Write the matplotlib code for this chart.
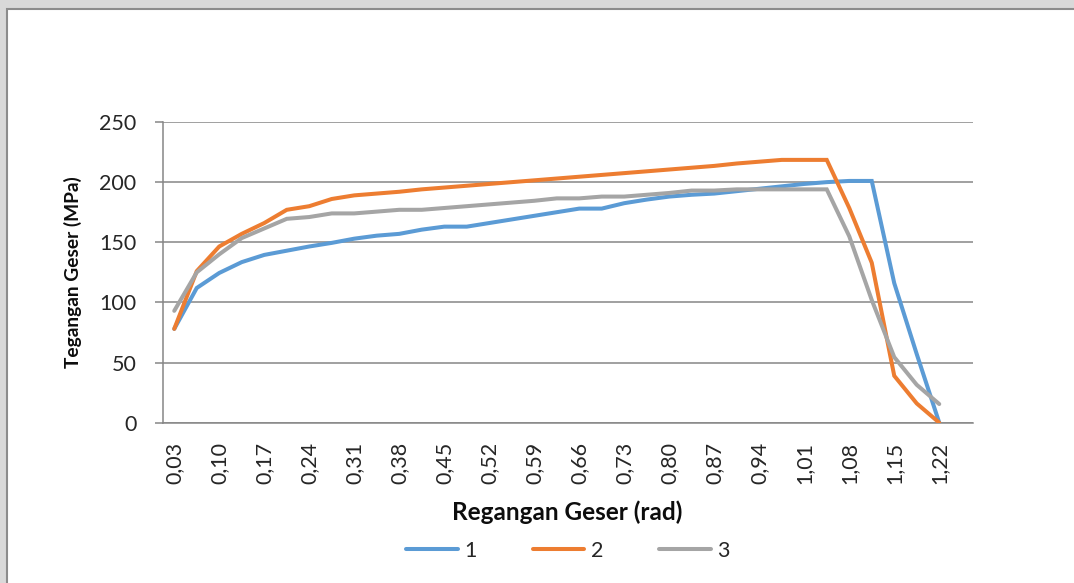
import matplotlib
matplotlib.use("Agg")
import matplotlib.pyplot as plt
from matplotlib.patches import Rectangle
import numpy as np

# ---- data ----
strain = [0.03, 0.065, 0.10, 0.135, 0.17, 0.205, 0.24, 0.275, 0.31, 0.345,
          0.38, 0.415, 0.45, 0.485, 0.52, 0.555, 0.59, 0.625, 0.66, 0.695,
          0.73, 0.765, 0.80, 0.835, 0.87, 0.905, 0.94, 0.975, 1.01, 1.045,
          1.08, 1.115, 1.15, 1.185, 1.22, 1.255]

series_1 = [78, 112, 124.5, 133.5, 139.5, 143, 146.5, 149.5, 153, 155.5,
            157, 160.5, 163, 163, 166, 169, 172, 175, 178, 178,
            182.5, 185.5, 188, 189.5, 190.5, 192.5, 194.5, 196.5, 198.5, 200,
            201, 201, 116, 57, 0]
series_2 = [78, 126, 146.5, 157, 166, 177, 180, 186, 189, 190.5,
            192, 194, 195.5, 197, 198.5, 200, 201.5, 203, 204.5, 206,
            207.5, 209, 210.5, 212, 213.5, 215.5, 217, 218.5, 218.5, 218.5,
            178.5, 133, 39, 16, 0]
series_3 = [93, 125, 140, 153.5, 161.5, 169.5, 171, 174, 174, 175.5,
            177, 177, 178.5, 180, 181.5, 183, 184.5, 186.5, 186.5, 188,
            188, 189.5, 191, 193, 193, 194, 194, 194, 194, 194,
            155, 102, 54.5, 31.5, 15.5]
series_names = ["1", "2", "3"]
colors = ["#5B9BD5", "#ED7D31", "#A5A5A5"]
y_ticks = [0, 50, 100, 150, 200, 250]

W, H = 1074, 583
fig = plt.figure(figsize=(W / 100, H / 100), dpi=100)
fig.patch.set_facecolor("#d9d9d9")
bg = Rectangle((7 / W, -0.5), 3.0, 1.5 - 9 / H,
               transform=fig.transFigure, facecolor="white",
               edgecolor="#8c8c8c", linewidth=1.5, zorder=-5)
fig.add_artist(bg)

ax = fig.add_axes([163 / W, 1 - 422.7 / H, (973 - 163) / W, (422.7 - 122) / H])
ax.set_zorder(2)
ax.set_facecolor("none")

font = "Lato"
for vals, name, c in zip([series_1, series_2, series_3], series_names, colors):
    x = np.arange(len(vals))
    ax.plot(x, vals, color=c, linewidth=2.9, label=name, solid_joinstyle="miter",
            solid_capstyle="round", zorder=3)

ax.set_xlim(-0.5, len(strain) - 0.5)
ax.set_ylim(0, 250)
ax.set_yticks(y_ticks)
ax.set_yticklabels([str(v) for v in y_ticks], fontsize=15.5, family=font,
                   color="#262626")
xt = list(range(0, len(strain), 2))
ax.set_xticks(xt)
ax.set_xticklabels([f"{strain[i]:.2f}".replace(".", ",") for i in xt],
                   rotation=90, fontsize=15.5, family=font, color="#262626",
                   va="top")

grid_c = "#868686"
ax.yaxis.grid(True, color=grid_c, linewidth=1.1)
ax.set_axisbelow(True)
for s in ["top", "right"]:
    ax.spines[s].set_visible(False)
for s in ["left", "bottom"]:
    ax.spines[s].set_color(grid_c)
    ax.spines[s].set_linewidth(1.1)
ax.tick_params(axis="y", length=6, color=grid_c, width=1.1, pad=13)
ax.tick_params(axis="x", length=0, pad=14)

fig.text(567 / W, 1 - 512 / H, "Regangan Geser (rad)", ha="center", va="center",
         fontsize=17.5, fontweight="bold", family=font, color="#0d0d0d",
         zorder=3)
fig.text(73 / W, 1 - 272 / H, "Tegangan Geser (MPa)", ha="center", va="center",
         rotation=90, fontsize=13.8, fontweight="bold", family=font,
         color="#0d0d0d", zorder=3)

leg = fig.legend(loc="center", bbox_to_anchor=(568 / W, 1 - 551 / H), ncol=3,
                 frameon=False, prop={"family": font, "size": 15.5},
                 handlelength=2.4, handletextpad=0.3, columnspacing=2.6)
leg.set_zorder(3)
for t in leg.get_texts():
    t.set_color("#262626")

fig.savefig("out.png", dpi=100, facecolor=fig.get_facecolor())
